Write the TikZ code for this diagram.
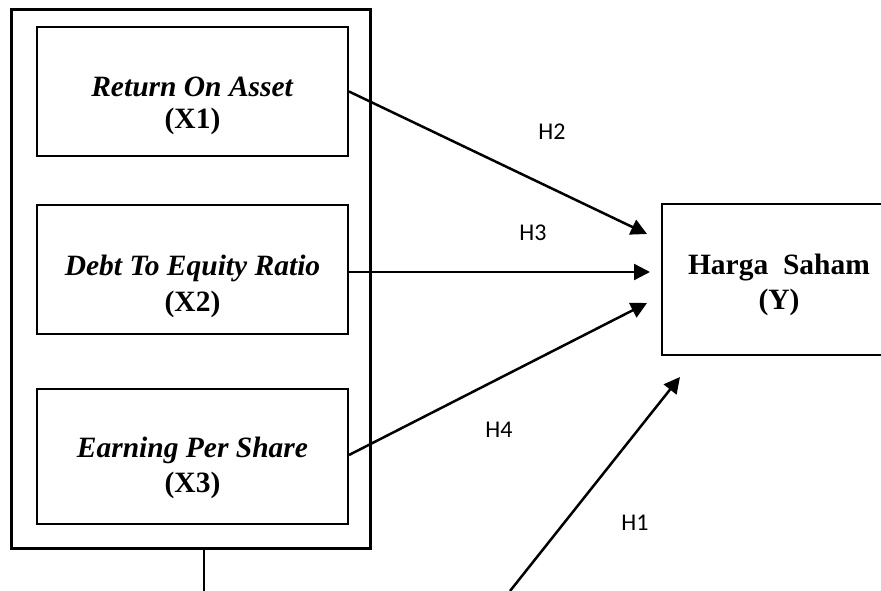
\documentclass[tikz,border=0pt]{standalone}
\usepackage{fontspec}
\setmainfont{Liberation Serif}
\newfontfamily\hfont{Carlito}
\usetikzlibrary{arrows.meta}
\tikzset{
  box/.style={draw, line width=2pt, inner sep=0pt},
  outerbox/.style={draw, line width=3pt, inner sep=0pt},
  vtxt/.style={anchor=base, inner sep=0pt, font=\fontsize{29.5}{34}\selectfont\bfseries},
  hlab/.style={inner sep=0pt, font=\hfont\fontsize{24}{28}\selectfont},
  arr/.style={line width=2.5pt, -{Triangle[length=16pt,width=16pt]}},
  ln/.style={line width=2.5pt}
}
\begin{document}
\begin{tikzpicture}[x=1pt,y=-1pt]
\useasboundingbox (0,0) rectangle (881,591);
\clip (0,0) rectangle (881,591);
% outer group box
\node[outerbox, minimum width=359pt, minimum height=538pt] (grp) at (190.5,279) {};
% independent variable boxes
\node[box, minimum width=311pt, minimum height=129pt] (x1) at (192.5,91.5) {};
\node[box, minimum width=311pt, minimum height=129pt] (x2) at (192.5,269.5) {};
\node[box, minimum width=311pt, minimum height=135pt] (x3) at (192.5,456.5) {};
% dependent box
\node[box, minimum width=240pt, minimum height=151pt] (y) at (782,279.5) {};
% texts
\node[vtxt] (x1a) at (192.5,97) {\textit{Return On Asset}};
\node[vtxt] (x1b) at (192.5,129) {(X1)};
\node[vtxt] (x2a) at (192.5,275) {\textit{Debt To Equity Ratio}};
\node[vtxt] (x2b) at (192.5,311) {(X2)};
\node[vtxt] (x3a) at (192.5,457) {\textit{Earning Per Share}};
\node[vtxt] (x3b) at (192.5,492) {(X3)};
\node[vtxt] (ya) at (779,274) {Harga\ \ Saham};
\node[vtxt] (yb) at (779,309) {(Y)};
% connector endpoints
\coordinate (t2) at (647,234);
\coordinate (t3) at (650,272);
\coordinate (t4) at (647,303);
\coordinate (t1) at (680,377);
\coordinate (s1) at (510,591);
\coordinate (gb) at (204,591);
% arrows
\draw[arr] (x1.east) -- (t2);
\draw[arr] ([yshift=-2.5pt]x2.east) -- (t3);
\draw[arr] ([yshift=1.5pt]x3.east) -- (t4);
\draw[arr] (s1) -- (t1);
\draw[ln] (grp.south -| gb) -- (gb);
% labels
\node[hlab] (h2) at (552,132) {H2};
\node[hlab] (h3) at (533,233) {H3};
\node[hlab] (h4) at (499,430) {H4};
\node[hlab] (h1) at (635,523) {H1};
\end{tikzpicture}
\end{document}
